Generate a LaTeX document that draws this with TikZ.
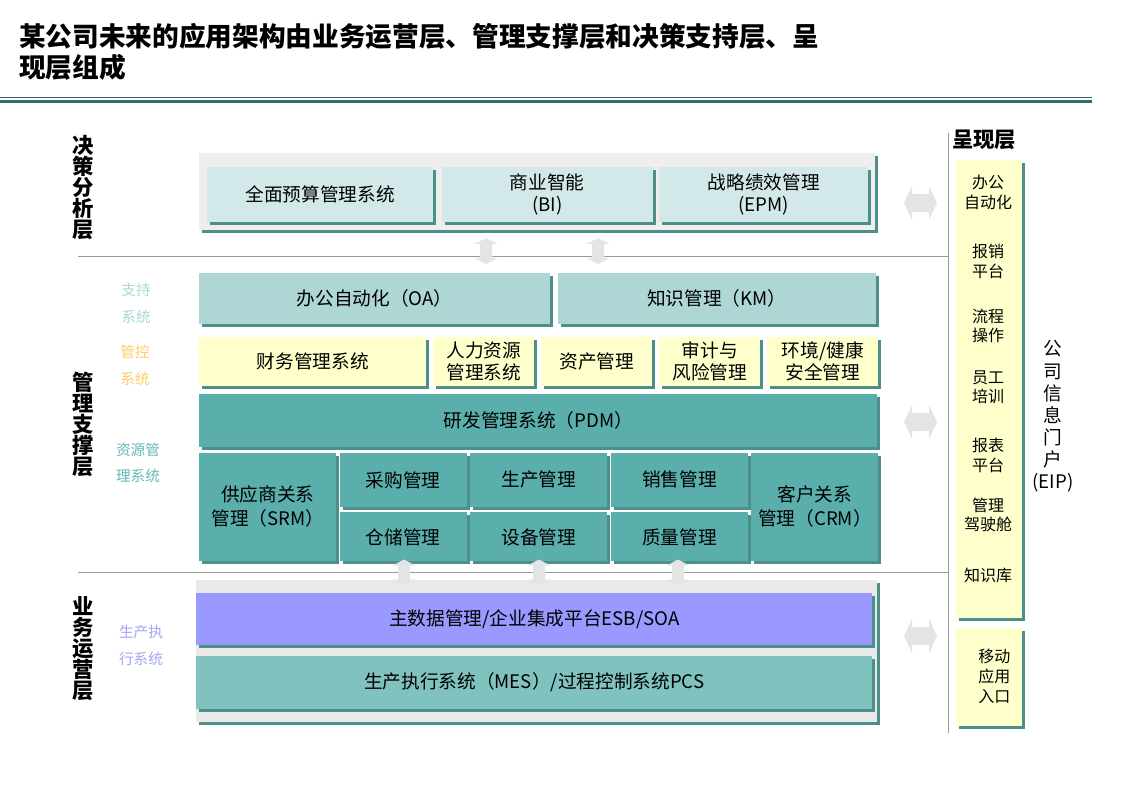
\documentclass[tikz,border=0pt]{standalone}
\usepackage{fontspec}
\setmainfont{Noto Sans CJK SC}
\usepackage{xcolor}
\usepackage{tikz}
\usetikzlibrary{arrows.meta, arrows, shadows, positioning}

\definecolor{boxshadow}{HTML}{4C8F8B}
\definecolor{ruleteal}{HTML}{336B67}
\definecolor{decfill}{HTML}{D3E9E9}
\definecolor{supfill}{HTML}{AED6D5}
\definecolor{ctlfill}{HTML}{FFFFCC}
\definecolor{resfill}{HTML}{5AAFAD}
\definecolor{mdmfill}{HTML}{9999FF}
\definecolor{mesfill}{HTML}{80C2BE}
\definecolor{arrowgray}{HTML}{E4E4E4}
\definecolor{supcolor}{HTML}{A9D8D7}
\definecolor{ctlcolor}{HTML}{FFCC66}
\definecolor{rescolor}{HTML}{66B8B6}
\definecolor{execcolor}{HTML}{A3A3F5}

\newcommand{\fsz}[2]{\fontsize{#1}{#2}\selectfont}

\begin{document}
\begin{tikzpicture}[x=0.75pt, y=-0.75pt, node distance=6pt, auto, >=latex',
    wh/.style 2 args={minimum width=#1*0.75pt, minimum height=#2*0.75pt},
    hblock/.pic={\fill[arrowgray] (-16.5,0) -- (-8.5,-17) -- (-8.5,-9) -- (8.5,-9) -- (8.5,-17) -- (16.5,0)
        -- (8.5,17) -- (8.5,9) -- (-8.5,9) -- (-8.5,17) -- cycle;},
    vblock/.pic={\fill[arrowgray] (0,-13) -- (11.5,-7) -- (6,-7) -- (6,7) -- (11.5,7) -- (0,13)
        -- (-11.5,7) -- (-6,7) -- (-6,-7) -- (-11.5,-7) -- cycle;}]
        % Stijlen
        \tikzstyle{shadowed} = [drop shadow={shadow xshift=2.25pt, shadow yshift=-2.25pt, fill=boxshadow, opacity=1}]
        \tikzstyle{sysbox} = [rectangle, inner sep=1pt, text centered, align=center, font=\fsz{14}{16.5}, shadowed]
        \tikzstyle{decbox} = [sysbox, fill=decfill]
        \tikzstyle{supbox} = [sysbox, fill=supfill]
        \tikzstyle{ctlbox} = [sysbox, fill=ctlfill]
        \tikzstyle{resbox} = [sysbox, fill=resfill]
        \tikzstyle{layerbg} = [rectangle, inner sep=0pt, shadowed]
        \tikzstyle{layerlabel} = [inner sep=0pt, align=center, font=\fsz{16}{15.75}\bfseries]
        \tikzstyle{sublabel} = [inner sep=0pt, align=center, font=\fsz{11}{20}]
        \tikzstyle{portalitem} = [inner sep=0pt, align=center, font=\fsz{12}{14.6}]
        \tikzstyle{seprule} = [gray!80, line width=0.75pt]

        \useasboundingbox (0,0) rectangle (1123,794);

        % Titel
        \node (title) [anchor=west, inner sep=0pt, align=left, font=\fsz{20}{23.25}\bfseries] at (19,52)
            {某公司未来的应用架构由业务运营层、管理支撑层和决策支持层、呈\\现层组成};
        \draw [ruleteal, line width=0.75pt] (0,97.5) -- (1092,97.5);
        \draw [ruleteal, line width=2.25pt] (0,101.5) -- (1092,101.5);

        % Scheidingslijnen
        \draw [seprule] (78,256.5) -- (948,256.5);
        \draw [seprule] (78,572) -- (948,572);
        \draw [seprule] (948,133) -- (948,733);

        % Laaglabels links
        \node (declabel) [layerlabel] at (83,187.5) {决\\策\\分\\析\\层};
        \node (mgtlabel) [layerlabel] at (83,424.5) {管\\理\\支\\撑\\层};
        \node (bizlabel) [layerlabel] at (83,648.5) {业\\务\\运\\营\\层};
        \node (suplabel) [sublabel, text=supcolor] at (136,303.5) {支持\\系统};
        \node (ctllabel) [sublabel, text=ctlcolor] at (135,365.5) {管控\\系统};
        \node (reslabel) [sublabel, text=rescolor] at (138,463) {资源管\\理系统};
        \node (execlabel) [sublabel, text=execcolor] at (141,645.5) {生产执\\行系统};

        % Beslissingslaag
        \node (declayer) [layerbg, fill=gray!13, wh={676}{77}, anchor=north west] at (199,153) {};
        \node (budget) [decbox, wh={226}{55}, anchor=north west] at (207,167) {全面预算管理系统};
        \node (bi) [decbox, wh={211}{55}, right=6pt of budget] {商业智能\\(BI)};
        \node (epm) [decbox, wh={209}{55}, right=4.5pt of bi] {战略绩效管理\\(EPM)};

        % Managementlaag
        \node (oa) [supbox, wh={351}{51}, anchor=north west] at (199,273) {办公自动化（OA）};
        \node (km) [supbox, wh={318}{51}, right=5.25pt of oa] {知识管理（KM）};
        \node (fin) [ctlbox, wh={227}{49}, below=9pt of oa.south west, anchor=north west] {财务管理系统};
        \node (hr) [ctlbox, wh={101}{49}, right=4.875pt of fin] {人力资源\\管理系统};
        \node (asset) [ctlbox, wh={111}{49}, right=4.875pt of hr] {资产管理};
        \node (audit) [ctlbox, wh={101}{49}, right=4.875pt of asset] {审计与\\风险管理};
        \node (ehs) [ctlbox, wh={111}{49}, right=4.875pt of audit] {环境/健康\\安全管理};
        \node (pdm) [resbox, wh={678}{53}, below=6pt of fin.south west, anchor=north west] {研发管理系统（PDM）};
        \node (srm) [resbox, wh={137}{108}, below=3.75pt of pdm.south west, anchor=north west, font=\fsz{14}{18}] {供应商关系\\管理（SRM）};
        \node (buy) [resbox, wh={127}{54}, right=2.25pt of srm.north east, anchor=north west] {采购管理};
        \node (store) [resbox, wh={127}{49}, below=3.75pt of buy] {仓储管理};
        \node (prod) [resbox, wh={137}{54}, right=2.25pt of buy] {生产管理};
        \node (equip) [resbox, wh={137}{49}, below=3.75pt of prod] {设备管理};
        \node (sale) [resbox, wh={137}{54}, right=2.25pt of prod] {销售管理};
        \node (quality) [resbox, wh={137}{49}, below=3.75pt of sale] {质量管理};
        \node (crm) [resbox, wh={127}{108}, right=2.25pt of srm.north east -| sale.east, anchor=north west, font=\fsz{14}{18}] {客户关系\\管理（CRM）};

        % Bedrijfsvoeringslaag
        \node (bizlayer) [layerbg, fill=gray!17, wh={681}{142}, anchor=north west] at (196,580) {};
        \node (mdm) [sysbox, fill=mdmfill, wh={676}{52}, anchor=north west] at (196,593) {主数据管理/企业集成平台ESB/SOA};
        \node (mes) [sysbox, fill=mesfill, wh={676}{53}, below=7.5pt of mdm] {生产执行系统（MES）/过程控制系统PCS};

        % Blokpijlen
        \pic (decarrow1) at (486,251) {vblock};
        \pic (decarrow2) at (598,251) {vblock};
        \pic (bizarrow1) at (404,572.5) {vblock};
        \pic (bizarrow2) at (539,572.5) {vblock};
        \pic (bizarrow3) at (678,572.5) {vblock};
        \pic (eiparrow1) at (920.5,203) {hblock};
        \pic (eiparrow2) at (920.5,422) {hblock};
        \pic (eiparrow3) at (920.5,636) {hblock};

        % Presentatielaag
        \node (preslabel) [inner sep=0pt, font=\fsz{16}{18}\bfseries] at (984,140) {呈现层};
        \node (portal) [layerbg, fill=ctlfill, wh={66}{458}, anchor=north west] at (956,160) {};
        \node (mobile) [layerbg, fill=ctlfill, wh={66}{98}, below=6.75pt of portal.south west, anchor=north west, align=center, font=\fsz{12}{15}] {\hspace*{7.5pt}移动\\\hspace*{7.5pt}应用\\\hspace*{7.5pt}入口};
        \node (itemoa) [portalitem] at (988,192.5) {办公\\自动化};
        \node (itemexp) [portalitem] at (988,261.5) {报销\\平台};
        \node (itemflow) [portalitem] at (988,326) {流程\\操作};
        \node (itemtrain) [portalitem] at (988,387.5) {员工\\培训};
        \node (itemrep) [portalitem] at (988,455.5) {报表\\平台};
        \node (itemcock) [portalitem] at (988,515) {管理\\驾驶舱};
        \node (itemkb) [portalitem] at (988,575) {知识库};
        \node (eip) [inner sep=0pt, align=center, font=\fsz{14}{16.6}] at (1053,416.5) {公\\司\\信\\息\\门\\户\\(EIP)};

    \end{tikzpicture}
\end{document}
